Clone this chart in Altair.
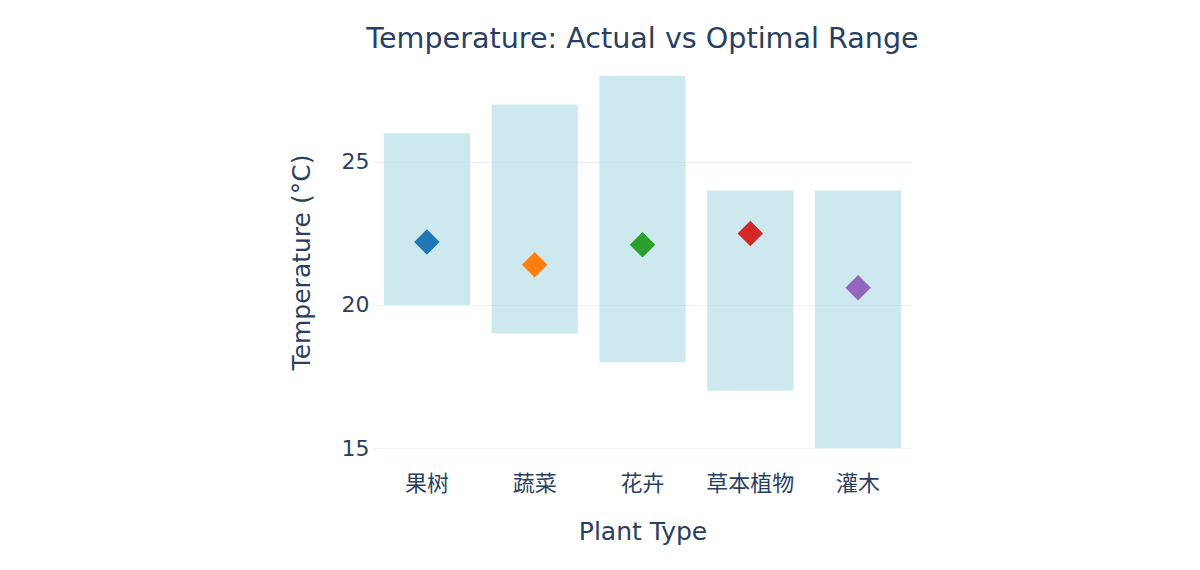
import altair as alt
import pandas as pd

plants = ["果树", "蔬菜", "花卉", "草本植物", "灌木"]
opt_min = [20, 19, 18, 17, 15]
opt_max = [26, 27, 28, 24, 24]
actual = [22.2, 21.4, 22.1, 22.5, 20.6]
colors = ["#1f77b4", "#ff7f0e", "#2ca02c", "#d62728", "#9467bd"]

df = pd.DataFrame({"plant": plants, "lo": opt_min, "hi": opt_max, "actual": actual})

FONT = "DejaVu Sans, Noto Sans CJK SC, sans-serif"
TXT = "#2a3f5f"

x = alt.X("plant:N", sort=plants, title="Plant Type",
          scale=alt.Scale(paddingInner=0.2, paddingOuter=0.1),
          axis=alt.Axis(labelAngle=0, labelFontSize=22, labelColor=TXT, labelFont=FONT,
                        titleFontSize=25, titleColor=TXT, titleFont=FONT, titleFontWeight="normal",
                        tickSize=0, domain=False, labelPadding=25, titlePadding=25, grid=False))

bars = alt.Chart(df).mark_bar(color="lightblue", opacity=0.6).encode(
    x=x,
    y=alt.Y("lo:Q", title="Temperature (°C)",
            scale=alt.Scale(domain=[15, 28], nice=False, zero=False),
            axis=alt.Axis(values=[15, 20, 25], labelFontSize=22, labelColor=TXT, labelFont=FONT,
                          titleFontSize=25, titleColor=TXT, titleFont=FONT, titleFontWeight="normal",
                          tickSize=0, domain=False, labelPadding=4, titlePadding=27,
                          gridColor="#ebf0f8", gridWidth=1)),
    y2="hi:Q",
)

points = alt.Chart(df).mark_point(shape="diamond", filled=True, size=650, opacity=1).encode(
    x=alt.X("plant:N", sort=plants),
    y=alt.Y("actual:Q"),
    color=alt.Color("plant:N", sort=plants, scale=alt.Scale(domain=plants, range=colors), legend=None),
)

chart = alt.layer(bars, points).properties(
    width=539, height=372,
    title=alt.TitleParams("Temperature: Actual vs Optimal Range", fontSize=28.6, color=TXT,
                          font=FONT, fontWeight="normal", anchor="middle", offset=22),
    autosize=alt.AutoSizeParams(type="none"),
    padding={"left": 373, "top": 76, "right": 288, "bottom": 122},
    background="white",
).configure_view(stroke=None)

chart.save("out.html", embed_options={"renderer": "svg", "actions": False})
